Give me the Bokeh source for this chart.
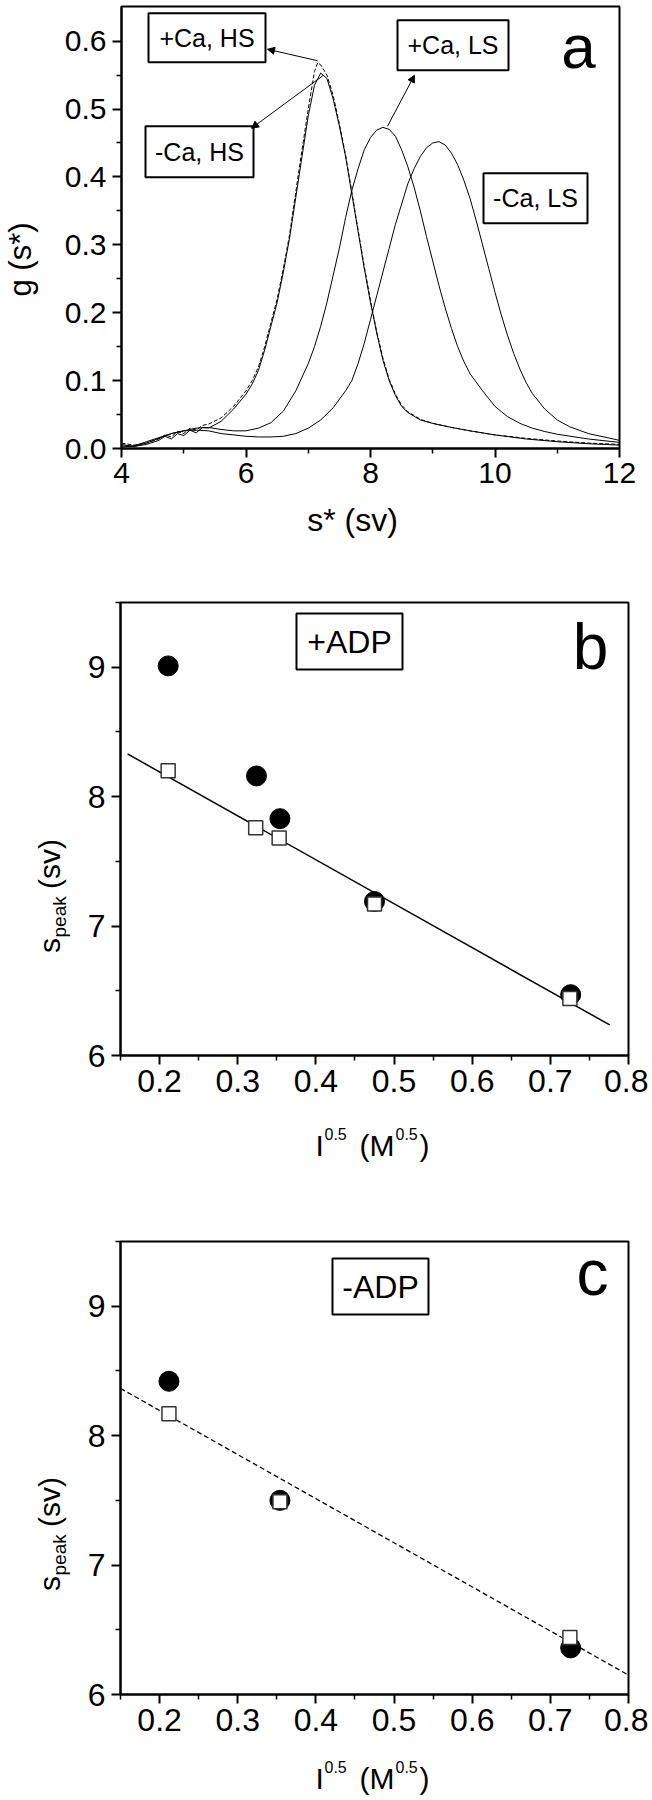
import math
from bokeh.plotting import figure
from bokeh.models import (Range1d, FixedTicker, NumeralTickFormatter, Label,
                          BoxAnnotation, Arrow, NormalHead)
from bokeh.layouts import column, row
from bokeh.embed import file_html
from bokeh.resources import INLINE

FONT = "Liberation Sans"

# ---------------- Panel a data: g(s*) distributions ----------------
hs_minus_x = [4.0, 4.2, 4.4, 4.6, 4.7, 4.8, 4.9, 5.0, 5.1, 5.2, 5.3, 5.4, 5.6, 5.8, 6.0, 6.1, 6.2, 6.3,
              6.4, 6.5, 6.6, 6.7, 6.8, 6.9, 7.0, 7.1, 7.2, 7.3, 7.4, 7.5, 7.6, 7.7, 7.8, 7.9,
              8.0, 8.1, 8.2, 8.3, 8.4, 8.5, 8.6, 8.8, 9.0, 9.3, 9.6, 10.0, 10.5, 11.0, 11.5, 12.0]
hs_minus_y = [0.006, 0.003, 0.006, 0.012, 0.018, 0.014, 0.022, 0.019, 0.027, 0.023, 0.031, 0.030, 0.040,
              0.058, 0.080, 0.095, 0.115, 0.145, 0.180, 0.215, 0.260, 0.310, 0.370, 0.430, 0.490,
              0.535, 0.553, 0.545, 0.515, 0.475, 0.430, 0.375, 0.320, 0.265, 0.215, 0.170, 0.130,
              0.100, 0.078, 0.062, 0.053, 0.042, 0.037, 0.031, 0.026, 0.020, 0.014, 0.010, 0.007, 0.005]

hs_plus_x = [4.0, 4.2, 4.4, 4.6, 4.7, 4.8, 4.9, 5.0, 5.1, 5.2, 5.3, 5.4, 5.6, 5.8, 6.0, 6.1, 6.2, 6.3,
             6.4, 6.5, 6.6, 6.7, 6.8, 6.9, 7.0, 7.1, 7.15, 7.2, 7.3, 7.4, 7.5, 7.6, 7.7, 7.8, 7.9,
             8.0, 8.1, 8.2, 8.3, 8.4, 8.5, 8.6, 8.8, 9.0, 9.3, 9.6, 10.0, 10.5, 11.0, 11.5, 12.0]
hs_plus_y = [0.008, 0.005, 0.008, 0.014, 0.020, 0.017, 0.025, 0.022, 0.030, 0.027, 0.034, 0.036, 0.045,
             0.062, 0.085, 0.100, 0.120, 0.150, 0.185, 0.220, 0.265, 0.315, 0.378, 0.440, 0.500,
             0.555, 0.568, 0.565, 0.550, 0.520, 0.478, 0.432, 0.378, 0.322, 0.268, 0.218, 0.172,
             0.133, 0.102, 0.080, 0.064, 0.054, 0.043, 0.037, 0.031, 0.026, 0.020, 0.015, 0.011,
             0.008, 0.006]

ls_plus_x = [4.0, 4.2, 4.4, 4.6, 4.8, 5.0, 5.2, 5.4, 5.6, 5.8, 6.0, 6.2, 6.4, 6.6, 6.8, 7.0, 7.1,
             7.2, 7.3, 7.4, 7.5, 7.6, 7.7, 7.8, 7.9, 8.0, 8.1, 8.2, 8.3, 8.4, 8.5, 8.6, 8.7, 8.8,
             8.9, 9.0, 9.1, 9.2, 9.3, 9.4, 9.5, 9.6, 9.8, 10.0, 10.2, 10.4, 10.6, 10.8, 11.0,
             11.5, 12.0]
ls_plus_y = [0.004, 0.003, 0.008, 0.015, 0.022, 0.026, 0.030, 0.031, 0.028, 0.026, 0.026, 0.030,
             0.038, 0.055, 0.085, 0.125, 0.150, 0.180, 0.215, 0.255, 0.295, 0.340, 0.380, 0.412,
             0.440, 0.458, 0.469, 0.473, 0.470, 0.460, 0.440, 0.415, 0.385, 0.350, 0.312, 0.276,
             0.240, 0.207, 0.177, 0.150, 0.128, 0.110, 0.085, 0.062, 0.047, 0.037, 0.030, 0.025,
             0.021, 0.014, 0.009]

ls_minus_x = [4.0, 4.2, 4.4, 4.6, 4.8, 5.0, 5.2, 5.4, 5.6, 5.8, 6.0, 6.2, 6.4, 6.6, 6.8, 7.0, 7.2,
              7.4, 7.6, 7.7, 7.8, 7.9, 8.0, 8.1, 8.2, 8.3, 8.4, 8.5, 8.6, 8.7, 8.8, 8.9, 9.0, 9.1,
              9.2, 9.3, 9.4, 9.5, 9.6, 9.7, 9.8, 9.9, 10.0, 10.1, 10.2, 10.3, 10.4, 10.5, 10.6,
              10.8, 11.0, 11.2, 11.5, 11.8, 12.0]
ls_minus_y = [0.002, 0.004, 0.010, 0.016, 0.022, 0.026, 0.027, 0.026, 0.022, 0.020, 0.018, 0.017,
              0.017, 0.018, 0.022, 0.030, 0.042, 0.060, 0.085, 0.100, 0.125, 0.155, 0.190, 0.225,
              0.260, 0.295, 0.330, 0.360, 0.390, 0.412, 0.430, 0.443, 0.450, 0.452, 0.447, 0.435,
              0.418, 0.395, 0.368, 0.335, 0.300, 0.265, 0.230, 0.197, 0.167, 0.140, 0.117, 0.097,
              0.081, 0.058, 0.042, 0.032, 0.022, 0.016, 0.012]

a_x_ticks = [4, 6, 8, 10, 12]
a_x_minor = [5, 7, 9, 11]
a_y_ticks = [0.0, 0.1, 0.2, 0.3, 0.4, 0.5, 0.6]
a_y_minor = [0.05, 0.15, 0.25, 0.35, 0.45, 0.55]

# ---------------- Panel b data: +ADP ----------------
b_circle_x = [0.211, 0.324, 0.354, 0.475, 0.726]
b_circle_y = [9.01, 8.16, 7.83, 7.19, 6.47]
b_square_x = [0.211, 0.323, 0.353, 0.475, 0.725]
b_square_y = [8.20, 7.76, 7.68, 7.17, 6.44]
b_fit_x = [0.159, 0.776]
b_fit_y = [8.33, 6.236]

# ---------------- Panel c data: -ADP ----------------
c_circle_x = [0.212, 0.354, 0.726]
c_circle_y = [8.42, 7.50, 6.36]
c_square_x = [0.212, 0.354, 0.725]
c_square_y = [8.17, 7.49, 6.44]
c_fit_x = [0.15, 0.80]
c_fit_y = [8.365, 6.15]

bc_x_ticks = [0.2, 0.3, 0.4, 0.5, 0.6, 0.7, 0.8]
bc_x_minor = [0.15, 0.25, 0.35, 0.45, 0.55, 0.65, 0.75]
bc_y_ticks = [6, 7, 8, 9]
bc_y_minor = [6.5, 7.5, 8.5, 9.5]


def make_fig(xr, yr, fw, fh, mbl, mbr, mbt, mbb, xt, xm, yt, ym, xfmt, yfmt, fs):
    p = figure(x_range=Range1d(*xr), y_range=Range1d(*yr), frame_width=fw, frame_height=fh,
               min_border_left=mbl, min_border_right=mbr, min_border_top=mbt,
               min_border_bottom=mbb, output_backend="svg", toolbar_location=None)
    p.grid.visible = False
    p.background_fill_color = "white"
    p.border_fill_color = "white"
    p.outline_line_color = "black"
    p.outline_line_width = 2
    p.outline_line_alpha = 1
    p.xaxis.ticker = FixedTicker(ticks=xt, minor_ticks=xm)
    p.yaxis.ticker = FixedTicker(ticks=yt, minor_ticks=ym)
    p.xaxis.formatter = NumeralTickFormatter(format=xfmt)
    p.yaxis.formatter = NumeralTickFormatter(format=yfmt)
    for ax in (p.xaxis[0], p.yaxis[0]):
        ax.axis_line_width = 2
        ax.axis_line_color = "black"
        ax.major_tick_line_width = 2
        ax.major_tick_line_color = "black"
        ax.minor_tick_line_width = 1.5
        ax.minor_tick_line_color = "black"
        ax.major_tick_in = 0
        ax.major_tick_out = 9
        ax.minor_tick_in = 0
        ax.minor_tick_out = 5
        ax.major_label_text_font = FONT
        ax.major_label_text_font_size = f"{fs}px"
        ax.major_label_text_color = "black"
    p.xaxis.major_label_standoff = 5
    p.yaxis.major_label_standoff = 6
    return p


def text_canvas(w, h):
    """A blank figure (no axes) used only to hold axis-title texts."""
    c = figure(frame_width=w, frame_height=h, x_range=Range1d(0, w), y_range=Range1d(0, h),
               min_border=0, min_border_left=0, min_border_right=0, min_border_top=0,
               min_border_bottom=0, x_axis_type=None, y_axis_type=None,
               output_backend="svg", toolbar_location=None)
    c.grid.visible = False
    c.outline_line_color = None
    c.background_fill_color = "white"
    c.border_fill_color = "white"
    return c


def lab(p, text, x, y, size, align="left", baseline="middle", angle=0.0):
    p.add_layout(Label(x=x, y=y, text=text, text_font=FONT, text_font_size=f"{size}px",
                       text_color="black", text_align=align, text_baseline=baseline,
                       angle=angle))


def boxed(p, text, l, r, t, b, size):
    p.add_layout(BoxAnnotation(left=l, right=r, top=t, bottom=b, fill_color="white",
                               fill_alpha=1.0, line_color="black", line_width=2, line_alpha=1.0))
    lab(p, text, (l + r) / 2, (t + b) / 2, size, align="center", baseline="middle")


# ================= Panel a =================
A_TOP, A_FH, A_BOT = 6, 442, 52
A_H = A_TOP + A_FH + A_BOT            # 500
A_YT_W = 50
pa = make_fig((4, 12), (0, 0.651), 498, A_FH, 121 - A_YT_W, 20, A_TOP, A_BOT,
              a_x_ticks, a_x_minor, a_y_ticks, a_y_minor, "0", "0.0", 30)

pa.line(hs_minus_x, hs_minus_y, line_color="black", line_width=1)
pa.line(hs_plus_x, hs_plus_y, line_color="black", line_width=1, line_dash="4 2")
pa.line(ls_plus_x, ls_plus_y, line_color="black", line_width=1)
pa.line(ls_minus_x, ls_minus_y, line_color="black", line_width=1)


def ax_(px):
    return 4 + (px - 121) / 62.25


def ay_(py):
    return (448.3 - py) / 679.0


for (t, l, r, tp, bt) in [("+Ca, HS", 148, 265, 13, 62), ("-Ca, HS", 145, 253, 126, 177),
                          ("+Ca, LS", 397, 508, 20, 70), ("-Ca, LS", 483, 587, 173, 223)]:
    boxed(pa, t, ax_(l), ax_(r), ay_(tp), ay_(bt), 25)

for (x0, y0, x1, y1) in [(317, 60.5, 267, 49), (323, 75, 251, 128), (387, 126, 414, 75)]:
    pa.add_layout(Arrow(end=NormalHead(size=7, fill_color="black", line_color="black",
                                       line_width=1),
                        x_start=ax_(x0), y_start=ay_(y0), x_end=ax_(x1), y_end=ay_(y1),
                        line_color="black", line_width=1))

lab(pa, "a", ax_(578), ay_(46), 62, align="center")

yt_a = text_canvas(A_YT_W, A_H)
lab(yt_a, "g (s*)", 20, A_H - 253, 31, align="center", angle=math.pi / 2)

XT_A_H = 60
xt_a = text_canvas(639, XT_A_H)
lab(xt_a, "s* (sv)", 352, XT_A_H - (519 - A_H), 32, align="center")

block_a = column(row(yt_a, pa), xt_a)
A_END = A_H + XT_A_H                  # 560


# ================= Panels b & c =================
def bx(px):
    return 0.15 + (px - 120) / 781.54


BC_YT_W = 80


def y_title(canvas, h, top, frame_center):
    start = frame_center + 82
    lab(canvas, "s", 49, h - (start - top), 30, angle=math.pi / 2)
    lab(canvas, "peak", 59, h - (start - 15.5 - top), 19, angle=math.pi / 2)
    lab(canvas, "(sv)", 49, h - (start - 64 - top), 30, angle=math.pi / 2)


def x_title(canvas, h, top, mid_py):
    ym = h - (mid_py - top)
    ys = ym + 12
    lab(canvas, "I", 315, ym, 30)
    lab(canvas, "0.5", 324, ys, 16)
    lab(canvas, "(M", 359, ym, 30)
    lab(canvas, "0.5", 395, ys, 16)
    lab(canvas, ")", 419, ym, 30)


# ---- b ----
B_FTOP = 602
B_TOP, B_FH, B_BOT = B_FTOP - A_END, 453, 52
B_H = B_TOP + B_FH + B_BOT
pb = make_fig((0.15, 0.8), (6, 9.5), 508, B_FH, 120 - BC_YT_W, 20, B_TOP, B_BOT,
              bc_x_ticks, bc_x_minor, bc_y_ticks, bc_y_minor, "0.0", "0", 32)
pb.line(b_fit_x, b_fit_y, line_color="black", line_width=1.5)
pb.scatter(b_circle_x, b_circle_y, marker="circle", size=20, fill_color="black",
           line_color="black")
pb.scatter(b_square_x, b_square_y, marker="square", size=14, fill_color="white",
           line_color="#333333", line_width=1.5)


def by(py):
    return 6 + (1055 - py) / 129.43


boxed(pb, "+ADP", bx(296), bx(402), by(613), by(669), 32)
lab(pb, "b", bx(590), by(646), 64, align="center")

yt_b = text_canvas(BC_YT_W, B_H)
y_title(yt_b, B_H, A_END, 828.5)
B_END = A_END + B_H
XT_B_H = 1200 - B_END
xt_b = text_canvas(648, XT_B_H)
x_title(xt_b, XT_B_H, B_END, 1145)
block_b = column(row(yt_b, pb), xt_b)

# ---- c ----
C_START = 1200
C_FTOP = 1241
C_TOP, C_FH, C_BOT = C_FTOP - C_START, 453, 52
C_H = C_TOP + C_FH + C_BOT
pc = make_fig((0.15, 0.8), (6, 9.5), 508, C_FH, 120 - BC_YT_W, 20, C_TOP, C_BOT,
              bc_x_ticks, bc_x_minor, bc_y_ticks, bc_y_minor, "0.0", "0", 32)
pc.line(c_fit_x, c_fit_y, line_color="black", line_width=1.3, line_dash="5 3")
pc.scatter(c_circle_x, c_circle_y, marker="circle", size=20, fill_color="black",
           line_color="black")
pc.scatter(c_square_x, c_square_y, marker="square", size=14, fill_color="white",
           line_color="#333333", line_width=1.5)


def cy(py):
    return 6 + (1694 - py) / 129.43


boxed(pc, "-ADP", bx(332), bx(428), cy(1258), cy(1314), 32)
lab(pc, "c", bx(592), cy(1272), 64, align="center")

yt_c = text_canvas(BC_YT_W, C_H)
y_title(yt_c, C_H, C_START, 1467.5)
C_END = C_START + C_H
XT_C_H = 1800 - C_END
xt_c = text_canvas(648, XT_C_H)
x_title(xt_c, XT_C_H, C_END, 1778)
block_c = column(row(yt_c, pc), xt_c)

layout = column(block_a, block_b, block_c)
open("out.html", "w").write(file_html(layout, INLINE))
